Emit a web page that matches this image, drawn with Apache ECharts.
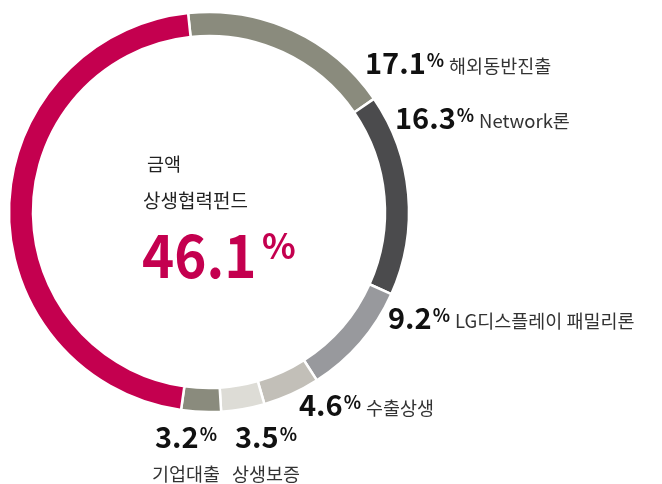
<!DOCTYPE html>
<html>
<head>
<meta charset="utf-8">
<script src="https://cdn.jsdelivr.net/npm/echarts@6/dist/echarts.min.js"></script>
<style>html,body{margin:0;padding:0;background:#fff}#c{width:662px;height:484px}</style>
</head>
<body>
<div id="c"></div>
<script>
// Data
const categories = ['해외동반진출', 'Network론', 'LG디스플레이 패밀리론', '수출상생', '상생보증', '기업대출', '상생협력펀드'];
const values = [17.1, 16.3, 9.2, 4.6, 3.5, 3.2, 46.1];
const centerTitle = '금액';

// Styles / layout (not data)
const sliceColors = ['#8a8b7d', '#4b4b4d', '#98999d', '#c2bfb8', '#dddcd6', '#8a8b7d', '#c4004f'];
const labelAnchors = [
  { x: 365, y: 63, mode: 'side' },
  { x: 395, y: 118, mode: 'side' },
  { x: 388, y: 318, mode: 'side' },
  { x: 299, y: 405, mode: 'side' },
  { x: 266, y: 437, mode: 'below' },
  { x: 186, y: 437, mode: 'below' }
];

const FONT = "'Noto Sans CJK KR', 'Noto Sans', sans-serif";
const rich = {
  n: { fontFamily: FONT, fontSize: 29, fontWeight: 'bold', fill: '#111', lineHeight: 30, verticalAlign: 'middle' },
  p: { fontFamily: FONT, fontSize: 18, fontWeight: 'bold', fill: '#111', lineHeight: 20, height: 25, verticalAlign: 'top', padding: [0, 0, 0, 1] },
  t: { fontFamily: FONT, fontSize: 18.5, fill: '#333', lineHeight: 20, height: 24, verticalAlign: 'bottom', padding: [0, 0, 0, 5] }
};

const graphics = [];
labelAnchors.forEach((a, i) => {
  const v = values[i].toFixed(1);
  if (a.mode === 'side') {
    graphics.push({
      type: 'text', x: a.x, y: a.y, silent: true,
      style: { text: '{n|' + v + '}{p|%}{t|' + categories[i] + '}', rich: rich, align: 'left', verticalAlign: 'middle', font: '17px ' + FONT }
    });
  } else {
    graphics.push({
      type: 'text', x: a.x, y: a.y, silent: true,
      style: { text: '{n|' + v + '}{p|%}', rich: rich, align: 'center', verticalAlign: 'middle', font: '17px ' + FONT }
    });
    graphics.push({
      type: 'text', x: a.x, y: a.y + 37, silent: true,
      style: { text: categories[i], fill: '#333', font: '18.5px ' + FONT, align: 'center', verticalAlign: 'middle' }
    });
  }
});
// Center block
const mainIdx = 6;
graphics.push({
  type: 'text', x: 147, y: 164, silent: true,
  style: { text: centerTitle, fill: '#222', font: '18.5px ' + FONT, align: 'left', verticalAlign: 'middle' }
});
graphics.push({
  type: 'text', x: 143, y: 201, silent: true,
  style: { text: categories[mainIdx], fill: '#222', font: '19px ' + FONT, align: 'left', verticalAlign: 'middle' }
});
graphics.push({
  type: 'text', x: 142, y: 255, scaleX: 0.91, silent: true,
  style: { text: values[mainIdx].toFixed(1), fill: '#c4004f', font: 'bold 60px ' + FONT, align: 'left', verticalAlign: 'middle' }
});
graphics.push({
  type: 'text', x: 262, y: 246, silent: true,
  style: { text: '%', fill: '#c4004f', font: 'bold 35px ' + FONT, align: 'left', verticalAlign: 'middle' }
});

const chart = echarts.init(document.getElementById('c'), null, { renderer: 'canvas' });
chart.setOption({
  animation: false,
  graphic: graphics,
  series: [{
    type: 'pie',
    center: [209, 212],
    radius: [176, 200],
    startAngle: 96,
    clockwise: true,
    silent: true,
    label: { show: false },
    labelLine: { show: false },
    emphasis: { disabled: true },
    itemStyle: { borderColor: '#fff', borderWidth: 2.5 },
    data: categories.map((c, i) => ({ name: c, value: values[i], itemStyle: { color: sliceColors[i] } }))
  }]
});
</script>
</body>
</html>
